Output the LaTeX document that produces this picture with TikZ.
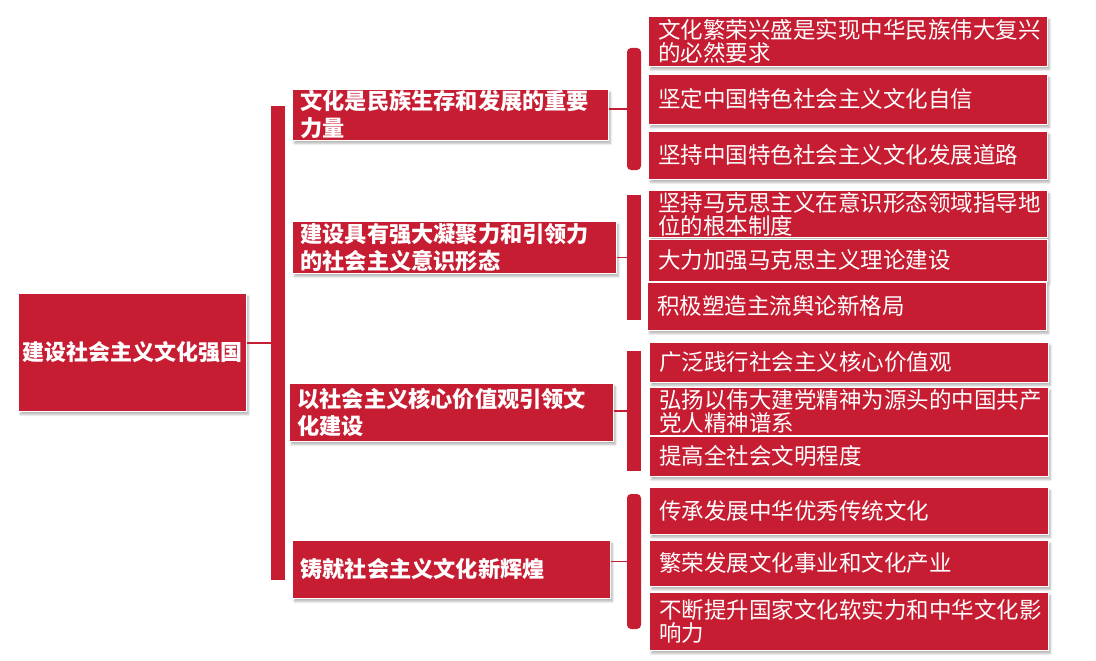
\documentclass[tikz,border=0pt]{standalone}
\usepackage{fontspec}
\setmainfont{Noto Sans CJK SC}
\definecolor{cnred}{RGB}{198,29,50}
\usetikzlibrary{shadows.blur}

\begin{document}
\begin{tikzpicture}[x=1pt,y=-1pt,
    every node/.style={text=white,inner sep=0pt},
    box/.style={fill=cnred,draw=white,line width=0.8pt,anchor=north west,
                blur shadow={shadow xshift=2pt,shadow yshift=-3pt,
                             shadow opacity=30,shadow blur steps=6}},
    rootbox/.style={box,font=\bfseries\fontsize{22}{26}\selectfont,align=center},
    topicbox/.style={box,font=\bfseries\fontsize{22.2}{27}\selectfont,
                     align=left,inner xsep=8pt},
    leafbox/.style={box,font=\fontsize{22.5}{23}\selectfont,align=left,
                    inner xsep=10pt,text width=379pt},
    bar/.style={fill=cnred,minimum width=14pt},
    stub/.style={cnred,line width=1.5pt}]
  \useasboundingbox (0,0) rectangle (1096,661);

  % root
  \node[rootbox,minimum width=228pt,minimum height=118pt]
        (root) at (18,293) {建设社会主义文化强国};

  % topics
  \node[topicbox,text width=300pt,minimum height=51pt]
        (t1) at (292,89) {文化是民族生存和发展的重要\\力量};
  \node[topicbox,text width=308pt,minimum height=52pt]
        (t2) at (292,221) {建设具有强大凝聚力和引领力\\的社会主义意识形态};
  \node[topicbox,text width=308pt,minimum height=58pt]
        (t3) at (289,383) {以社会主义核心价值观引领文\\化建设};
  \node[topicbox,text width=302pt,minimum height=58pt]
        (t4) at (292,540) {铸就社会主义文化新辉煌};

  % leaves
  \node[leafbox,minimum height=50pt] (l1a) at (648,16) {文化繁荣兴盛是实现中华民族伟大复兴\\的必然要求};
  \node[leafbox,minimum height=50pt] (l1b) at (648,74) {坚定中国特色社会主义文化自信};
  \node[leafbox,minimum height=48pt] (l1c) at (648,131) {坚持中国特色社会主义文化发展道路};
  \node[leafbox,minimum height=47pt] (l2a) at (648,190) {坚持马克思主义在意识形态领域指导地\\位的根本制度};
  \node[leafbox,minimum height=42pt] (l2b) at (648,239) {大力加强马克思主义理论建设};
  \node[leafbox,minimum height=48pt] (l2c) at (647,282) {积极塑造主流舆论新格局};
  \node[leafbox,minimum height=40pt] (l3a) at (649,342) {广泛践行社会主义核心价值观};
  \node[leafbox,minimum height=48pt] (l3b) at (649,387) {弘扬以伟大建党精神为源头的中国共产\\党人精神谱系};
  \node[leafbox,minimum height=40pt] (l3c) at (649,436) {提高全社会文明程度};
  \node[leafbox,minimum height=47pt] (l4a) at (649,487) {传承发展中华优秀传统文化};
  \node[leafbox,minimum height=46pt] (l4b) at (649,540) {繁荣发展文化事业和文化产业};
  \node[leafbox,minimum height=58pt] (l4c) at (649,592) {不断提升国家文化软实力和中华文化影\\响力};

  % brackets
  \node[bar,minimum height=474pt] (b0) at (278,343) {};
  \node[bar,minimum height=122pt,rounded corners=4pt] (b1) at (634,109) {};
  \node[bar,minimum height=125pt] (b2) at (634,257.5) {};
  \node[bar,minimum height=120pt] (b3) at (634,411) {};
  \node[bar,minimum height=135pt,rounded corners=4pt] (b4) at (634,561.5) {};

  % connectors
  \draw[stub] (root.east |- b0.west) -- (b0.west);
  \draw[stub] (t1.east |- b1.west) -- (b1.west);
  \draw[stub] (t2.east |- b2.west) -- (b2.west);
  \draw[stub] (t3.east |- b3.west) -- (b3.west);
  \draw[stub] (t4.east |- b4.west) -- (b4.west);
\end{tikzpicture}
\end{document}
